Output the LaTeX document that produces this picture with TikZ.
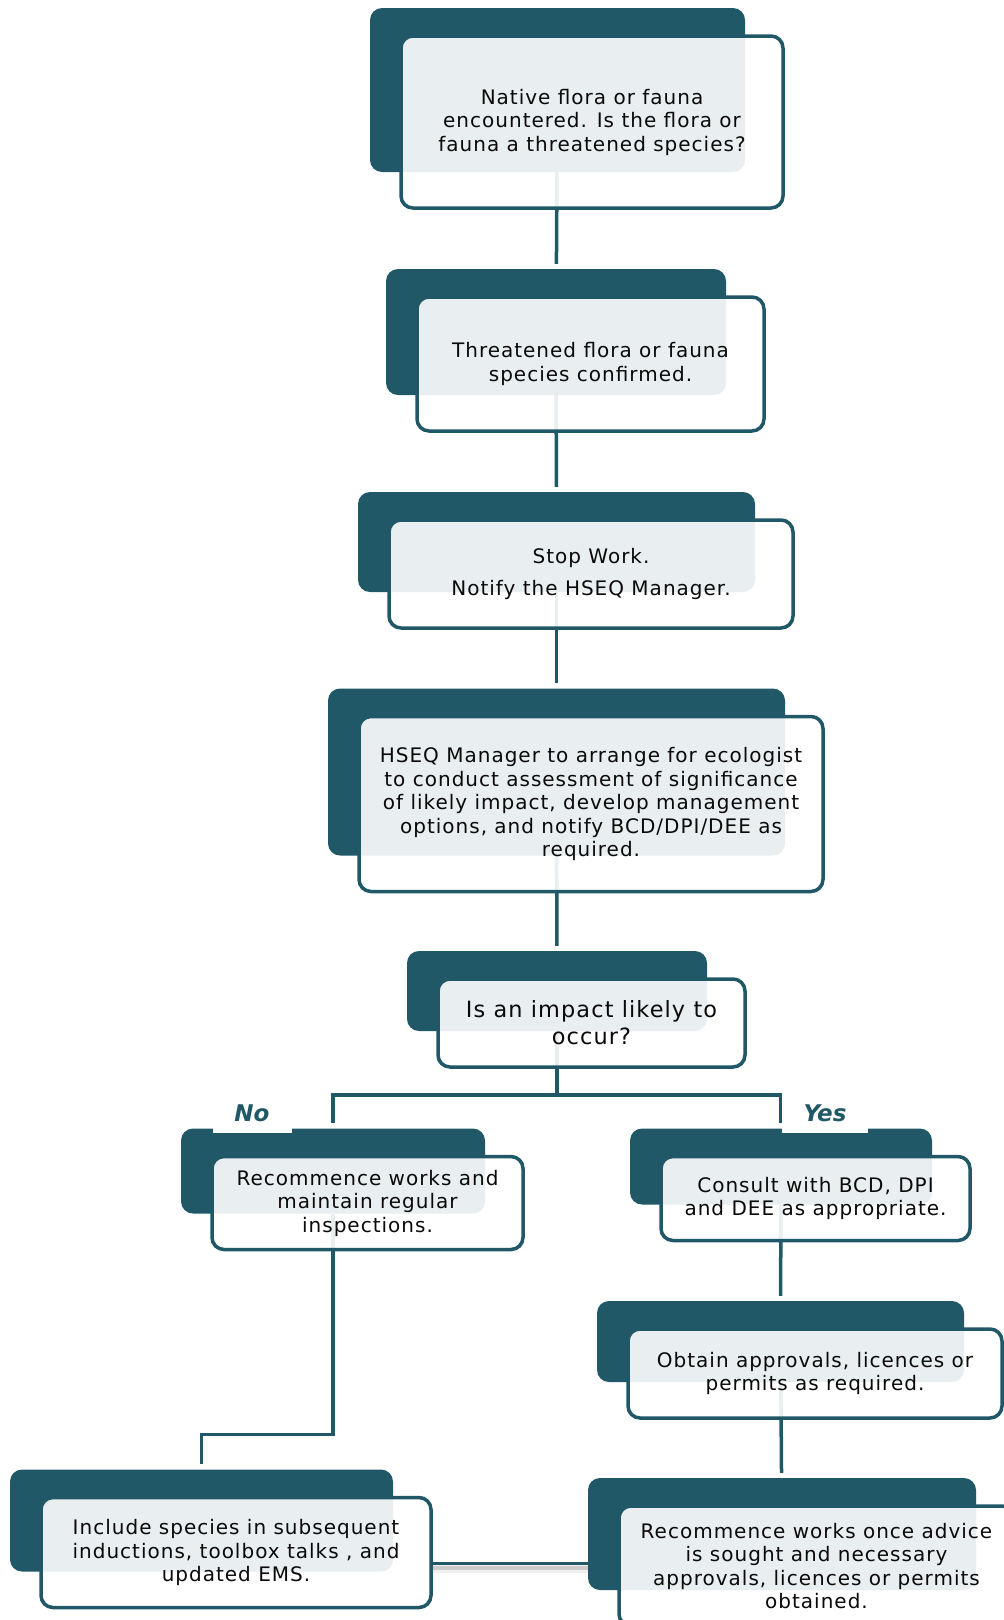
\documentclass[tikz,border=0pt]{standalone}
\usepackage{fontspec}
\setmainfont{DejaVu Sans}
\newfontfamily\boxfont[LetterSpace=5]{DejaVu Sans}
\usetikzlibrary{calc,fit}
\definecolor{tealdark}{RGB}{32,88,103}
\definecolor{inktext}{RGB}{10,10,10}
\pgfdeclarelayer{lines}
\pgfdeclarelayer{back}
\pgfsetlayers{lines,back,main}

\begin{document}
\begin{tikzpicture}[x=1pt,y=-1pt,
    stepbox/.style={draw=tealdark, line width=3.5pt, rounded corners=12pt, fill=white, fill opacity=0.9, text opacity=1, text=inktext, align=center, inner sep=0pt, outer sep=0pt, font=\boxfont\fontsize{20}{23.5}\selectfont},
    backbox/.style={fill=tealdark, rounded corners=12pt, inner sep=0pt},
    link/.style={draw=tealdark, line width=3.5pt, shorten >=5pt},
    answer/.style={fill=white, text=tealdark, minimum height=40pt, inner sep=0pt, font=\fontsize{23}{23}\bfseries\itshape\selectfont}]

    \useasboundingbox (0,0) rectangle (1004,1620);

    % steps of the procedure
    \node[stepbox, minimum width=382pt, minimum height=172pt] (native) at (592,122)
        {Native flora or fauna\\encountered. Is the flora or\\fauna a threatened species?};
    \node[stepbox, minimum width=347pt, minimum height=134pt] (confirmed) at (590.5,364)
        {Threatened flora or fauna\\species confirmed.};
    \node[stepbox, minimum width=404pt, minimum height=108pt] (stop) at (591,574)
        {Stop Work.\\[8.5pt]Notify the HSEQ Manager.};
    \node[stepbox, minimum width=464pt, minimum height=175pt] (ecologist) at (591,804)
        {HSEQ Manager to arrange for ecologist\\to conduct assessment of significance\\of likely impact, develop management\\options, and notify BCD/DPI/DEE as\\required.};
    \node[stepbox, minimum width=307pt, minimum height=88pt, font=\boxfont\fontsize{22.4}{27}\selectfont] (impact) at (591.5,1023)
        {Is an impact likely to\\occur?};
    \node[stepbox, minimum width=311pt, minimum height=93pt] (resume) at (367.5,1203)
        {Recommence works and\\maintain regular\\inspections.};
    \node[stepbox, minimum width=309pt, minimum height=84pt] (consult) at (815.5,1198.5)
        {Consult with BCD, DPI\\and DEE as appropriate.};
    \node[stepbox, minimum width=374pt, minimum height=89pt] (approvals) at (815,1373.5)
        {Obtain approvals, licences or\\permits as required.};
    \node[stepbox, minimum width=390pt, minimum height=110pt] (include) at (236,1552.5)
        {Include species in subsequent\\inductions, toolbox talks , and\\updated EMS.};
    \node[stepbox, minimum width=395pt, minimum height=120pt] (advice) at (816.5,1566)
        {Recommence works once advice\\is sought and necessary\\approvals, licences or permits\\obtained.};

    % answers
    \node[answer, minimum width=79pt] (no) at (252,1113) {No};
    \node[answer, minimum width=86pt] (yes) at (825,1113) {Yes};

    % dark tabs behind the steps
    \begin{pgfonlayer}{back}
        \foreach \n in {native,confirmed,stop,ecologist,impact,resume,consult,approvals,include,advice}
            \node[backbox, fit={($(\n.north west)+(-31,-28)$) ($(\n.south east)+(-38,-36)$)}] (\n-b) {};
    \end{pgfonlayer}

    % connectors
    \begin{pgfonlayer}{lines}
        \fill[white] (0,0) rectangle (1004,1620);
        \draw[link] (native-b) -- (confirmed-b);
        \draw[link] (confirmed-b) -- (stop-b);
        \draw[link] (stop-b) -- (ecologist-b);
        \draw[link] (ecologist-b) -- (impact-b);
        \coordinate (split) at ($(impact-b.south)+(0,64)$);
        \draw[link] (impact-b) -- (split) -| (resume-b);
        \draw[link] (split) -| (consult-b);
        \draw[link] (consult-b) -- (approvals-b);
        \draw[link] (approvals-b) -- (advice-b);
        \coordinate (drop) at ($(resume-b.south)+(0,221)$);
        \draw[link] (resume-b) -- (drop) -| (include-b);
        \draw[line width=9pt, black, opacity=0.06] ([yshift=-16pt]include.east) -- ([yshift=-16pt]include.east -| advice-b.west);
        \draw[line width=4pt, black, opacity=0.15] ([yshift=-15pt]include.east) -- ([yshift=-15pt]include.east -| advice-b.west);
        \draw[link, shorten >=0pt] ([yshift=-11pt]include.east) -- ([yshift=-11pt]include.east -| advice-b.west);
    \end{pgfonlayer}
\end{tikzpicture}
\end{document}
